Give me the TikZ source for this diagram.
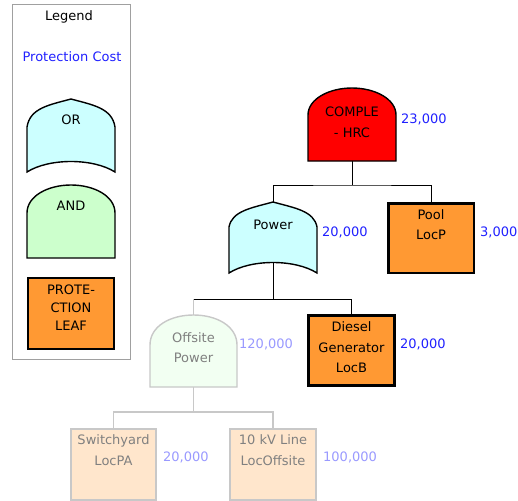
\documentclass[tikz,border=0pt]{standalone}
\usepackage{fontspec}
\setmainfont{DejaVu Sans}
\usetikzlibrary{backgrounds}
\definecolor{orfill}{HTML}{CCFFFF}
\definecolor{andfill}{HTML}{CCFFCC}
\definecolor{leaf}{HTML}{FF9933}
\definecolor{topred}{HTML}{FF0000}
\definecolor{costblue}{HTML}{2020FF}
\definecolor{fadecost}{HTML}{9999FF}
\definecolor{fadeline}{HTML}{C8C8C8}
\definecolor{fadetext}{HTML}{808080}
\definecolor{fadeand}{HTML}{F2FFF2}
\definecolor{fadeleaf}{HTML}{FFE6CC}
\definecolor{legendline}{HTML}{A0A0A0}
\newcommand\fs{\fontsize{13}{20.5}\selectfont}
\newcommand\fsl{\fontsize{13}{18}\selectfont}
% OR gate: style, cx, top, bottom, halfwidth, side start offset
\newcommand\orgate[6]{%
  \draw[#1] ({#2-#5},#4) -- ({#2-#5},{#3+#6})
    .. controls ({#2-#5+3},{#3+9}) and ({#2-22},{#3+6}) .. (#2,#3)
    .. controls ({#2+22},{#3+6}) and ({#2+#5-3},{#3+9}) .. ({#2+#5},{#3+#6})
    -- ({#2+#5},#4)
    .. controls ({#2+22},{#4-14}) and ({#2-22},{#4-14}) .. ({#2-#5},#4) -- cycle;}
% AND gate: style, cx, top, bottom, halfwidth, side start offset
\newcommand\andgate[6]{%
  \draw[#1] ({#2-#5},#4) -- ({#2-#5},{#3+#6})
    .. controls ({#2-#5},{#3+11}) and ({#2-23},#3) .. (#2,#3)
    .. controls ({#2+23},#3) and ({#2+#5},{#3+11}) .. ({#2+#5},{#3+#6})
    -- ({#2+#5},#4) -- cycle;}
\tikzset{
  conn/.style={line width=1pt, draw=black},
  fconn/.style={line width=1.2pt, draw=fadeline},
  lbl/.style={font=\fs, inner sep=0pt, align=center},
  flbl/.style={lbl, text=fadetext},
  cost/.style={font=\fs, text=costblue, anchor=west, inner sep=0pt},
  fcost/.style={cost, text=fadecost},
  gatearea/.style={draw=none, minimum width=88, minimum height=73, inner sep=0pt},
  leafbox/.style={draw=black, line width=2.5pt, fill=leaf, inner sep=0pt},
  fleafbox/.style={draw=fadeline, line width=2pt, fill=fadeleaf, inner sep=0pt},
  orstyle/.style={draw=black, line width=1.4pt, fill=orfill},
  andstyle/.style={draw=black, line width=1.4pt, fill=andfill},
}
\begin{document}
\begin{tikzpicture}[x=1pt,y=-1pt]
\useasboundingbox (0,0) rectangle (518,500);
\clip (0,0) rectangle (518,500);

% ---------- Legend ----------
\node[draw=legendline, line width=1pt, minimum width=118, minimum height=354, inner sep=0pt] (legend) at (71.5,182) {};
\node[lbl] (legendtitle) at (69,17) {Legend};
\node[lbl, text=costblue] (legendcost) at (72,57) {Protection Cost};
\orgate{orstyle}{71}{99}{172}{44}{28}
\node[gatearea] (legor) at (71,135.5) {};
\node[lbl] (legort) at (71,120) {OR};
\andgate{andstyle}{71}{185}{258}{44}{28}
\node[gatearea] (legand) at (71,221.5) {};
\node[lbl] (legandt) at (71,206) {AND};
\node[leafbox, minimum width=86, minimum height=71] (legleaf) at (71,313.5) {};
\node[lbl, font=\fsl] (legleaft) at (71,308) {PROTE-\\CTION\\LEAF};

% ---------- Tree nodes ----------
\andgate{draw=black, line width=1.4pt, fill=topred}{352}{88}{161}{44}{27}
\node[gatearea] (comple) at (352,124.5) {};
\node[lbl] (complet) at (352,122.5) {COMPLE\\- HRC};
\node[cost] (c1) at (401,119) {23,000};

\node[gatearea] (power) at (273,237.5) {};
\node[leafbox, minimum width=85.5, minimum height=69.5] (pool) at (431,238) {};
\node[lbl] (poolt) at (431,224.5) {Pool\\LocP};
\node[cost] (c3) at (480,232) {3,000};

\node[gatearea] (offsite) at (193.5,351) {};
\node[leafbox, minimum width=86, minimum height=70] (diesel) at (351.5,350.5) {};
\node[lbl] (dieselt) at (351.5,347.5) {Diesel\\Generator\\LocB};
\node[cost] (c5) at (400,344) {20,000};

\node[fleafbox, minimum width=85, minimum height=71] (switch) at (113.5,464.5) {};
\node[flbl] (switcht) at (113.5,450) {Switchyard\\LocPA};
\node[fcost] (c6) at (163,457) {20,000};
\node[fleafbox, minimum width=86, minimum height=71] (line10) at (273,464.5) {};
\node[flbl] (line10t) at (273,450) {10 kV Line\\LocOffsite};
\node[fcost] (c7) at (323,457) {100,000};

\coordinate (j1) at (352,185);
\coordinate (j2) at (273,299);
\coordinate (j3) at (193.5,412);

% ---------- Connectors ----------
\begin{scope}[on background layer]
\draw[conn] (comple.center) -- (j1);
\draw[conn] (power.center) |- (j1) -| (pool.center);
\draw[conn] (power.center) -- (j2);
\draw[conn] (j2) -| (diesel.center);
\draw[conn] (j2) -- (offsite.center |- j2);
\draw[fconn] (offsite.center |- j2) -- (offsite.center);
\draw[fconn] (offsite.center) -- (j3);
\draw[fconn] (switch.center) |- (j3) -| (line10.center);
\end{scope}

% ---------- Gate shapes (drawn over connectors) ----------
\orgate{orstyle}{273}{202}{273}{44}{25}
\node[lbl] (powert) at (273,225) {Power};
\node[cost] (c2) at (322,232) {20,000};

\andgate{draw=fadeline, line width=1.4pt, fill=fadeand}{193.5}{315}{387}{43.5}{30}
\node[flbl] (offsitet) at (193.5,347.5) {Offsite\\Power};
\node[fcost] (c4) at (239,344) {120,000};
\end{tikzpicture}
\end{document}
